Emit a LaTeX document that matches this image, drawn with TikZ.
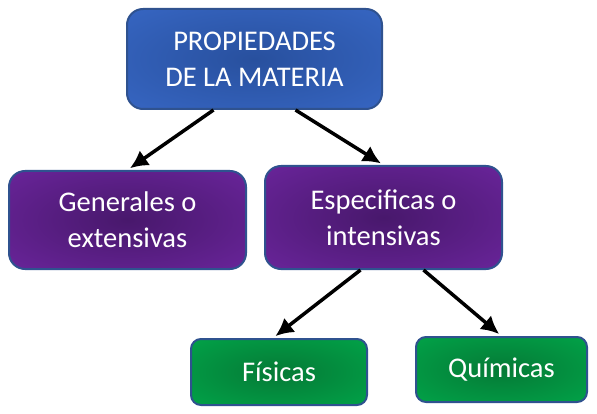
\documentclass[tikz,border=0pt]{standalone}
\usepackage{fontspec}
\setmainfont{Carlito}
\usepackage{xcolor}
\usepackage{tikz}
\usetikzlibrary{
  % rounded boxes and positions
  positioning,%
  calc,%
  arrows.meta
}
\definecolor{boxline}{HTML}{2F528F}
\definecolor{blueout}{HTML}{3C6ED0}
\definecolor{bluein}{HTML}{28509E}
\definecolor{purpleout}{HTML}{7629AC}
\definecolor{purplein}{HTML}{48186C}
\definecolor{greenout}{HTML}{00B24F}
\definecolor{greenin}{HTML}{057A36}
\pgfdeclareradialshading{blueshade}{\pgfpoint{0bp}{0bp}}{color(0bp)=(bluein); color(50bp)=(blueout)}
\pgfdeclareradialshading{purpleshade}{\pgfpoint{0bp}{0bp}}{color(0bp)=(purplein); color(50bp)=(purpleout)}
\pgfdeclareradialshading{greenshade}{\pgfpoint{0bp}{0bp}}{color(0bp)=(greenin); color(50bp)=(greenout)}
\tikzset{>={Latex[length=18pt, width=18pt]}}
\tikzset{font=\fontsize{28.5}{36}\selectfont}
\tikzset{conceptbox/.style={draw=boxline, line width=2pt, text=white,
    align=center, inner sep=0pt}}
\tikzset{mainbox/.style={conceptbox, shading=blueshade, rounded corners=16pt,
    minimum width=255pt, minimum height=100pt}}
\tikzset{kindbox/.style={conceptbox, shading=purpleshade, rounded corners=16pt,
    minimum width=237pt}}
\tikzset{leafbox/.style={conceptbox, shading=greenshade, rounded corners=10pt,
    minimum height=66pt}}
\tikzset{link/.style={->, line width=3.5pt, black, shorten >=3pt}}

\begin{document}
\begin{tikzpicture}[x=1pt, y=-1pt]
  \useasboundingbox (0, 0) rectangle (597, 414); %
  \node[mainbox] (materia) at (254.5, 59) {PROPIEDADES\\DE LA MATERIA}; %
  \node[kindbox, minimum height=98pt] (generales) at (127.5, 220)
    {Generales o\\extensivas}; %
  \node[kindbox, minimum height=103pt] (especificas) at (383.5, 217.5)
    {Especificas o\\intensivas}; %
  \node[leafbox, minimum width=176pt] (fisicas) at (279, 372) {Físicas}; %
  \node[leafbox, minimum width=171pt, minimum height=65pt] (quimicas)
    at (501.5, 369.5) {Químicas}; %
  \draw[link] ($(materia.south) + (-41, 0)$) -- (generales.north); %
  \draw[link] ($(materia.south) + (41, 0)$) -- (especificas.north); %
  \draw[link] ($(especificas.south) + (-23, 0)$) -- ($(fisicas.north) + (-6, 0)$); %
  \draw[link] ($(especificas.south) + (40, 0)$) -- (quimicas.north); %
\end{tikzpicture}
\end{document}
